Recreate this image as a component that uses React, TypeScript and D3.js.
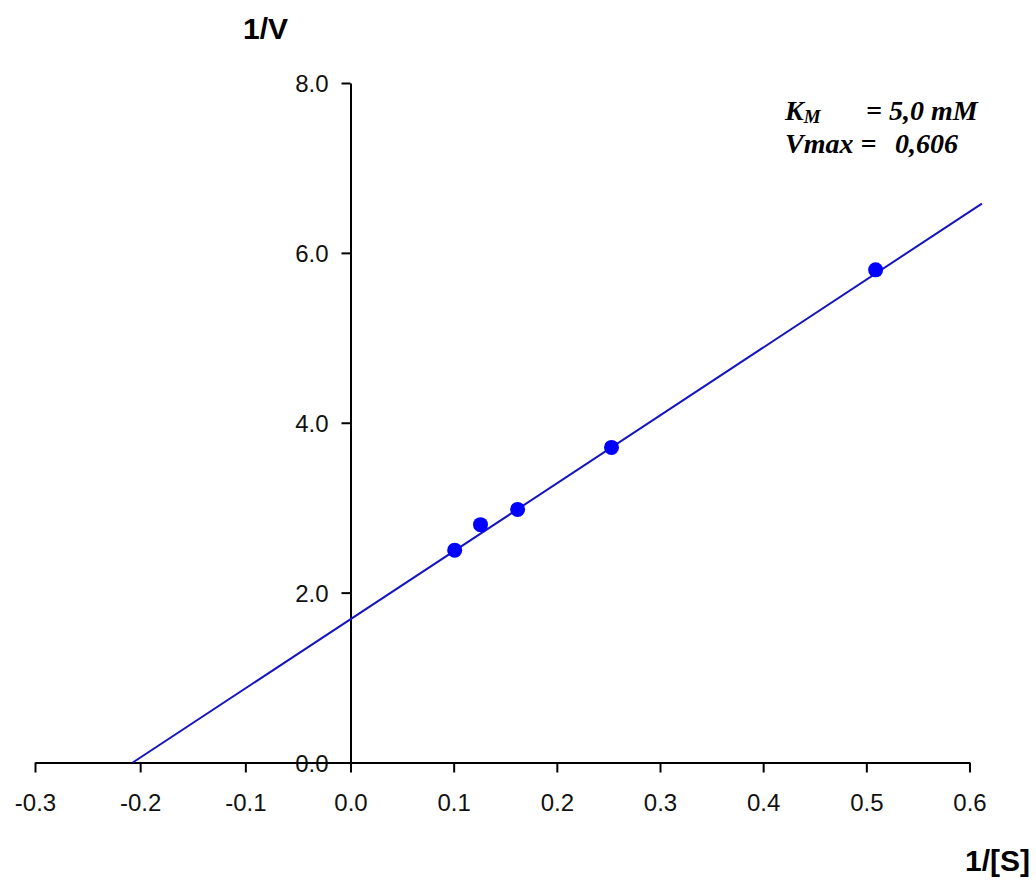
import React, { useEffect, useRef } from 'react'
import * as d3 from 'd3'

// measured points (1/[S], 1/V)
const pointX = [0.101, 0.126, 0.162, 0.253, 0.509]
const pointY = [2.5, 2.8, 2.98, 3.71, 5.8]

// fitted Lineweaver-Burk line, end points
const lineX = [-0.207, 0.612]
const lineY = [0, 6.58]

const xTicks = [-0.3, -0.2, -0.1, 0.0, 0.1, 0.2, 0.3, 0.4, 0.5, 0.6]
const xTickLabels = ['-0.3', '-0.2', '-0.1', '0.0', '0.1', '0.2', '0.3', '0.4', '0.5', '0.6']
const yTicks = [0, 2, 4, 6, 8]
const yTickLabels = ['0.0', '2.0', '4.0', '6.0', '8.0']

const width = 1036
const height = 881

export default function App() {
  const ref = useRef<SVGSVGElement>(null)

  useEffect(() => {
    const svg = d3.select(ref.current)
    svg.selectAll('*').remove()

    // the original's tick spacing is a bit wider left of zero than right of it
    const x = d3.scaleLinear().domain([-0.3, 0, 0.6]).range([35, 350.5, 969.5])
    const y = d3.scaleLinear().domain([0, 8]).range([762.5, 83])
    const x0 = x(0)

    // y axis
    const yAxis = svg.append('g')
      .attr('transform', `translate(${x0},0)`)
      .call(d3.axisLeft(y).tickValues(yTicks).tickSize(9).tickSizeOuter(0)
        .tickFormat((d, i) => yTickLabels[i]))
    yAxis.select('.domain').attr('stroke', '#000').attr('stroke-width', 2)
    yAxis.selectAll('.tick line').attr('stroke', '#000').attr('stroke-width', 2)
    yAxis.selectAll('.tick text')
      .attr('x', -22).attr('dy', '0.36em')
      .attr('font-family', 'Liberation Sans, Arial, sans-serif')
      .attr('font-size', 24).attr('fill', '#111')

    // x axis
    const xAxis = svg.append('g')
      .attr('transform', `translate(0,${y(0)})`)
      .call(d3.axisBottom(x).tickValues(xTicks).tickSize(10).tickSizeOuter(0)
        .tickFormat((d, i) => xTickLabels[i]))
    xAxis.select('.domain').attr('stroke', '#000').attr('stroke-width', 2)
    xAxis.selectAll('.tick line').attr('stroke', '#000').attr('stroke-width', 2)
    xAxis.selectAll('.tick text')
      .attr('y', 48).attr('dy', 0)
      .attr('font-family', 'Liberation Sans, Arial, sans-serif')
      .attr('font-size', 24).attr('fill', '#111')

    // regression line
    const line = d3.line<number>().x((d, i) => x(lineX[i])).y(d => y(d))
    svg.append('path')
      .datum(lineY)
      .attr('d', line)
      .attr('fill', 'none')
      .attr('stroke', '#1414c0')
      .attr('stroke-width', 2)

    // points
    svg.append('g').selectAll('circle')
      .data(pointX)
      .join('circle')
      .attr('cx', d => x(d))
      .attr('cy', (d, i) => y(pointY[i]))
      .attr('r', 7.5)
      .attr('fill', '#0000ff')

    // axis titles
    svg.append('text')
      .attr('x', 243).attr('y', 39)
      .attr('font-family', 'Liberation Sans, Arial, sans-serif')
      .attr('font-size', 30).attr('font-weight', 'bold')
      .text('1/V')
    svg.append('text')
      .attr('x', 1030).attr('y', 871)
      .attr('text-anchor', 'end')
      .attr('font-family', 'Liberation Sans, Arial, sans-serif')
      .attr('font-size', 30).attr('font-weight', 'bold')
      .text('1/[S]')

    // kinetic constants
    const note = svg.append('g')
      .attr('font-family', 'Liberation Serif, Times New Roman, serif')
      .attr('font-size', 28).attr('font-weight', 'bold').attr('font-style', 'italic')
    const km = note.append('text').attr('x', 785).attr('y', 120)
    km.append('tspan').text('K')
    km.append('tspan').attr('font-size', 19).attr('dy', 3).text('M')
    note.append('text').attr('x', 866).attr('y', 120).text('= 5,0 mM')
    note.append('text').attr('x', 785).attr('y', 153).text('Vmax =')
    note.append('text').attr('x', 895).attr('y', 153).text('0,606')
  }, [])

  return (
    <div style={{ position: 'absolute', left: 0, top: 0 }}>
      <svg ref={ref} width={width} height={height} style={{ display: 'block', background: '#fff' }} />
    </div>
  )
}
